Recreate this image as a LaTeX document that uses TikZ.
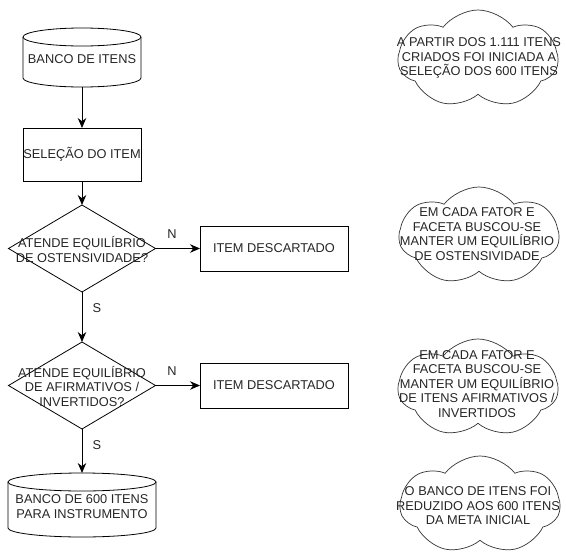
\documentclass[tikz,border=0pt]{standalone}
\usepackage{fontspec}
\setmainfont{Liberation Sans}
\usetikzlibrary{shapes.geometric,shapes.symbols,arrows.meta}
\begin{document}
\begin{tikzpicture}[x=1pt,y=-1pt,
  ln/.style={line width=0.8pt,draw=black},
  txt/.style={font=\fontsize{12.8}{14.5}\selectfont,align=center,inner sep=0pt,text=black!85},
  holder/.style={inner sep=0pt,outer sep=0pt},
  boxnode/.style={ln,rectangle,inner sep=0pt,outer sep=0pt},
  dianode/.style={ln,diamond,inner sep=0pt,outer sep=0pt,minimum width=147pt,minimum height=87pt},
  cloudnode/.style={line width=0.7pt,draw=black!80,cloud,cloud puffs=7,cloud puff arc=105,cloud ignores aspect,inner sep=0pt,minimum width=160pt,minimum height=98pt},
  arr/.style={ln,-{Stealth[length=10pt,width=8.5pt]}}
]
\useasboundingbox (0,0) rectangle (566,555);

% cylinder 1
\node[holder,minimum width=118pt,minimum height=59pt] (b1) at (82,57.5) {};
\draw[ln] ([yshift=-9pt]b1.north) ellipse [x radius=59pt,y radius=9pt];
\draw[ln] ([yshift=-9pt]b1.north west) -- ([yshift=9pt]b1.south west)
  arc[start angle=180,end angle=360,x radius=59pt,y radius=9pt]
  -- ([yshift=-9pt]b1.north east);
\node[txt] (b1t) at (82,59) {BANCO DE ITENS};

% selection box
\node[boxnode,minimum width=118pt,minimum height=53pt] (s1) at (82,154.5) {};
\node[txt] (s1t) at (s1) {SELEÇÃO DO ITEM};

% diamond 1
\node[dianode] (d1) at (82,248.5) {};
\node[txt] (d1t) at (82,249.5) {ATENDE EQUILÍBRIO\\DE OSTENSIVIDADE?};

% discard 1
\node[boxnode,minimum width=148pt,minimum height=45pt] (r1) at (274,248.5) {};
\node[txt] (r1t) at (r1) {ITEM DESCARTADO};

% diamond 2
\node[dianode] (d2) at (82,385.5) {};
\node[txt] (d2t) at (82,386.5) {ATENDE EQUILÍBRIO\\DE AFIRMATIVOS /\\INVERTIDOS?};

% discard 2
\node[boxnode,minimum width=148pt,minimum height=45pt] (r2) at (274,385.5) {};
\node[txt] (r2t) at (r2) {ITEM DESCARTADO};

% cylinder 2
\node[holder,minimum width=148pt,minimum height=64pt] (b2) at (82,505) {};
\draw[ln] ([yshift=-9pt]b2.north) ellipse [x radius=74pt,y radius=9pt];
\draw[ln] ([yshift=-9pt]b2.north west) -- ([yshift=9pt]b2.south west)
  arc[start angle=180,end angle=360,x radius=74pt,y radius=9pt]
  -- ([yshift=-9pt]b2.north east);
\node[txt] (b2t) at (82,506.5) {BANCO DE 600 ITENS\\PARA INSTRUMENTO};

% connectors
\draw[arr] (b1.south) -- (s1.north);
\draw[arr] (s1.south) -- (d1.north);
\draw[arr] (d1.east) -- (r1.west);
\draw[arr] (d1.south) -- (d2.north);
\draw[arr] (d2.east) -- (r2.west);
\draw[arr] (d2.south) -- (b2.north);

% labels
\node[txt] (n1) at (172,234) {N};
\node[txt] (n2) at (172,371) {N};
\node[txt] (y1) at (97,308) {S};
\node[txt] (y2) at (97,445) {S};

% clouds
\node[cloudnode] (c1) at (478,59) {};
\node[txt] (c1t) at (479,58) {A PARTIR DOS 1.111 ITENS\\CRIADOS FOI INICIADA A\\SELEÇÃO DOS 600 ITENS};
\node[cloudnode] (c2) at (479,236) {};
\node[txt] (c2t) at (477,234) {EM CADA FATOR E\\FACETA BUSCOU-SE\\MANTER UM EQUILÍBRIO\\DE OSTENSIVIDADE};
\node[cloudnode] (c3) at (478,388) {};
\node[txt] (c3t) at (477,384) {EM CADA FATOR E\\FACETA BUSCOU-SE\\MANTER UM EQUILÍBRIO\\DE ITENS AFIRMATIVOS /\\INVERTIDOS};
\node[cloudnode] (c4) at (480,505) {};
\node[txt] (c4t) at (478,506) {O BANCO DE ITENS FOI\\REDUZIDO AOS 600 ITENS\\DA META INICIAL};
\end{tikzpicture}
\end{document}
